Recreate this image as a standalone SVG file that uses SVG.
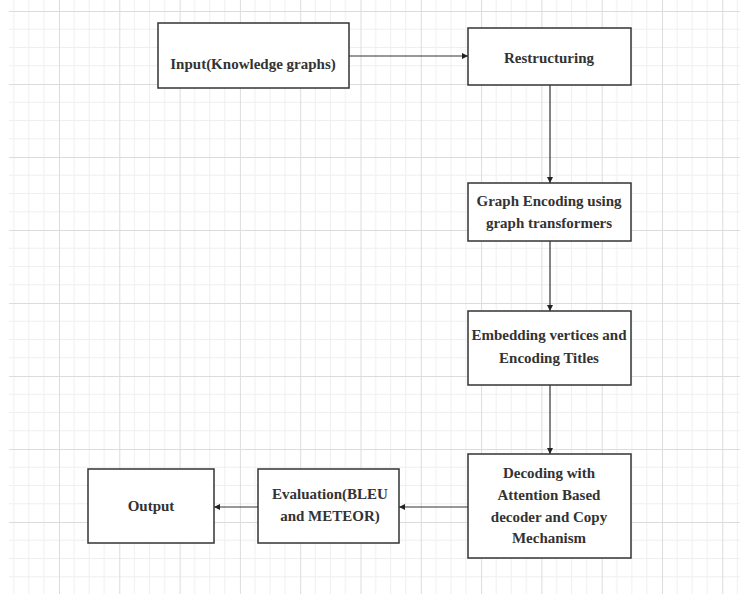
<svg xmlns="http://www.w3.org/2000/svg" width="740" height="594" viewBox="0 0 740 594">
  <defs>
    <pattern id="grid" patternUnits="userSpaceOnUse" x="59" y="11" width="60.3" height="73">
      <g stroke="#efefef" stroke-width="1" fill="none">
        <line x1="15.075" y1="0" x2="15.075" y2="73"/>
        <line x1="30.15" y1="0" x2="30.15" y2="73"/>
        <line x1="45.225" y1="0" x2="45.225" y2="73"/>
        <line x1="0" y1="18.25" x2="60.3" y2="18.25"/>
        <line x1="0" y1="36.5" x2="60.3" y2="36.5"/>
        <line x1="0" y1="54.75" x2="60.3" y2="54.75"/>
      </g>
      <g stroke="#dcdcdc" stroke-width="1" fill="none">
        <line x1="0.5" y1="0" x2="0.5" y2="73"/>
        <line x1="0" y1="0.5" x2="60.3" y2="0.5"/>
      </g>
    </pattern>
    <marker id="arrow" markerUnits="userSpaceOnUse" markerWidth="7" markerHeight="7" refX="6" refY="3.5" orient="auto">
      <path d="M0,0.5 L6,3.5 L0,6.5 z" fill="#222"/>
    </marker>
    <style>
      .box { fill: #ffffff; stroke: #333333; stroke-width: 1.5; }
      .lbl { font-family: "Liberation Serif", "Times New Roman", serif; font-weight: bold; font-size: 15px; fill: #333333; text-anchor: middle; }
      .conn { stroke: #333333; stroke-width: 1.2; fill: none; marker-end: url(#arrow); }
    </style>
  </defs>
  <rect x="0" y="0" width="740" height="594" fill="#ffffff"/>
  <rect x="9" y="0" width="731" height="594" fill="url(#grid)"/>

  <g id="connectors">
    <line class="conn" x1="349" y1="56" x2="468" y2="56"/>
    <line class="conn" x1="550" y1="85" x2="550" y2="183"/>
    <line class="conn" x1="550" y1="241" x2="550" y2="311"/>
    <line class="conn" x1="550" y1="385" x2="550" y2="454"/>
    <line class="conn" x1="468" y1="507" x2="399" y2="507"/>
    <line class="conn" x1="258" y1="507" x2="214" y2="507"/>
  </g>

  <g id="input">
    <rect class="box" x="158" y="23" width="191" height="65"/>
    <text class="lbl" x="253" y="69">Input(Knowledge graphs)</text>
  </g>
  <g id="restructuring">
    <rect class="box" x="468" y="28" width="163" height="57"/>
    <text class="lbl" x="549" y="63">Restructuring</text>
  </g>
  <g id="graph-encoding">
    <rect class="box" x="468" y="183" width="163" height="58"/>
    <text class="lbl" x="549" y="206">Graph Encoding using</text>
    <text class="lbl" x="549" y="228">graph transformers</text>
  </g>
  <g id="embedding">
    <rect class="box" x="468" y="311" width="163" height="74"/>
    <text class="lbl" x="549" y="340">Embedding vertices and</text>
    <text class="lbl" x="549" y="363">Encoding Titles</text>
  </g>
  <g id="decoding">
    <rect class="box" x="468" y="454" width="163" height="104"/>
    <text class="lbl" x="549" y="478">Decoding with</text>
    <text class="lbl" x="549" y="500">Attention Based</text>
    <text class="lbl" x="549" y="522">decoder and Copy</text>
    <text class="lbl" x="549" y="543">Mechanism</text>
  </g>
  <g id="evaluation">
    <rect class="box" x="258" y="469" width="141" height="74"/>
    <text class="lbl" x="330" y="499">Evaluation(BLEU</text>
    <text class="lbl" x="330" y="521">and METEOR)</text>
  </g>
  <g id="output">
    <rect class="box" x="88" y="469" width="126" height="74"/>
    <text class="lbl" x="151" y="511">Output</text>
  </g>
</svg>
